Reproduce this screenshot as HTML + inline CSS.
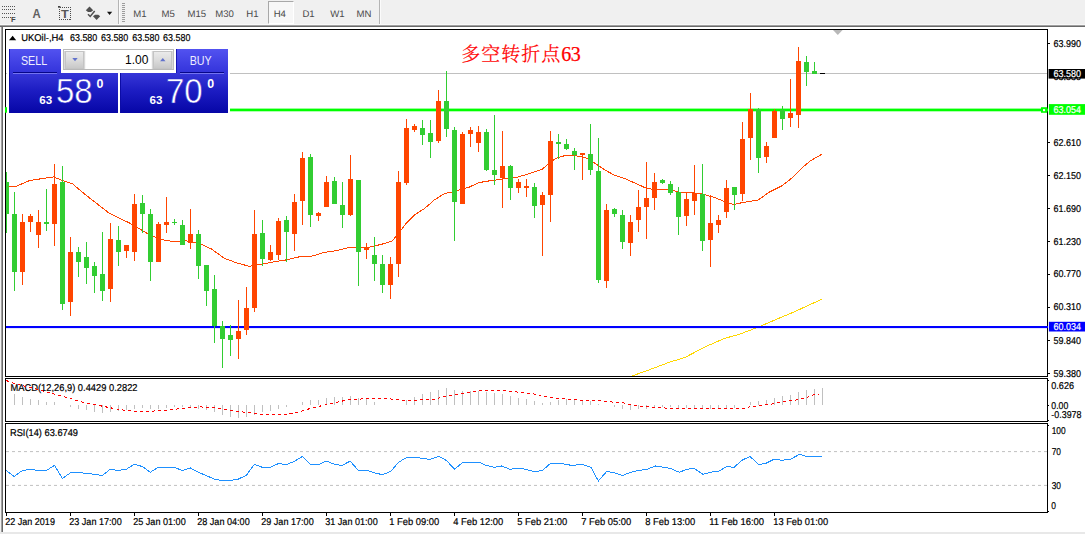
<!DOCTYPE html>
<html lang="zh">
<head>
<meta charset="utf-8">
<title>UKOil H4</title>
<style>
html,body{margin:0;padding:0;background:#fff;}
body{width:1085px;height:534px;position:relative;overflow:hidden;font-family:"Liberation Sans","Noto Sans CJK SC",sans-serif;}
#toolbar{position:absolute;left:0;top:0;width:1085px;height:25px;background:#f0f0f0;}
#tbline{position:absolute;left:0;top:24px;width:1085px;height:3px;background:linear-gradient(#f8f8f8 0,#f8f8f8 33.3%,#a0a0a0 33.4%,#a0a0a0 66.6%,#696969 66.7%);}
.tf{position:absolute;top:8.4px;font-size:9.6px;line-height:14px;color:#4a4a4a;white-space:nowrap;text-rendering:geometricPrecision;}
#h4box{position:absolute;left:268px;top:1px;width:24px;height:21px;background:#f7f7f7;border-left:1px solid #a8a8a8;border-top:1px solid #a8a8a8;border-right:1px solid #fff;border-bottom:1px solid #fff;box-sizing:content-box;}
.vsep{position:absolute;top:0;width:1px;height:24px;background:#b4b4b4;border-right:1px solid #fbfbfb;}
#frameL{position:absolute;left:0;top:27px;width:1px;height:507px;background:#f2f2f2;}
#frameL1{position:absolute;left:1px;top:27px;width:1px;height:505px;background:#a0a0a0;}
#frameL2{position:absolute;left:2px;top:27px;width:1px;height:505px;background:#696969;}
#frameB{position:absolute;left:0;top:532px;width:1085px;height:2px;background:#e8e8e8;}
#chart{position:absolute;left:0;top:0;}
#chart text{font-family:"Liberation Sans",sans-serif;text-rendering:geometricPrecision;}
#title{position:absolute;left:461.2px;top:41px;font-family:"Liberation Serif","Noto Serif CJK SC",serif;font-size:19px;letter-spacing:1px;line-height:26px;color:#ff0000;white-space:nowrap;font-weight:300;-webkit-text-stroke:0.25px #ff0000;}
/* one click trading panel */
.btn{position:absolute;top:49px;height:24.8px;background:linear-gradient(#5252f0,#3232da);color:#eef;font-size:12.3px;line-height:24px;text-align:center;box-shadow:inset 1px 0 0 #1414b4;}
.btn b{display:inline-block;font-weight:normal;transform:scaleX(0.87);position:relative;left:-0.8px;}
.sepl{position:absolute;top:72px;height:1px;background:#060688;box-shadow:0 1px 0 #7474f0;}
.px{position:absolute;top:73.3px;height:39.5px;background:linear-gradient(#3636d8,#1c1cc2 45%,#0606a6);color:#fff;}
.px{box-shadow:inset 1px 0 0 #0c0ca6;}
.px span{position:absolute;white-space:nowrap;}
.sm{font-size:11.6px;font-weight:bold;top:21px;line-height:12px;}
.big{font-size:35.5px;top:0.2px;line-height:37px;transform-origin:0 0;transform:scaleX(0.93);-webkit-text-stroke:0.55px #2a2acd;}
.sup{font-size:12.4px;font-weight:bold;top:4.4px;line-height:13px;}
#vol{position:absolute;left:63.1px;top:49px;width:110.7px;height:21.4px;background:#fff;box-shadow:inset 0 0 0 1px #b8b8b8;}
.spin{position:absolute;top:1.5px;width:19.2px;height:18.6px;background:linear-gradient(#ececec,#dcdcdc 50%,#c6c6c6);box-shadow:inset 0 0 0 1px #c4c4c4, 1.2px 0 0 #d8d8d8, -1.2px 0 0 #d8d8d8;}
#volv{position:absolute;right:25.4px;top:4.2px;font-size:12px;line-height:14px;color:#000;}
</style>
</head>
<body>
<div id="toolbar">
  <svg width="130" height="25" style="position:absolute;left:0;top:0">
    <g stroke="#555" stroke-width="1" stroke-dasharray="1,1" fill="none">
      <path d="M2,6.5 H15 M2,9.5 H15 M2,13.5 H15 M2,17.5 H11"/>
    </g>
    <text x="10.9" y="22.1" font-size="7.6" font-weight="bold" fill="#444" font-family="Liberation Sans,sans-serif">F</text>
    <text x="32.6" y="18" font-size="12" font-weight="bold" fill="#606060" font-family="Liberation Sans,sans-serif" textLength="8.2" lengthAdjust="spacingAndGlyphs">A</text>
    <rect x="59.5" y="7.5" width="11" height="12" fill="none" stroke="#4a4a4a" stroke-width="1" stroke-dasharray="1,1" shape-rendering="crispEdges"/>
    <rect x="58" y="6" width="2.4" height="1.7" fill="#444"/>
    <text x="61.1" y="18" font-size="11" font-weight="bold" fill="#585858" font-family="Liberation Sans,sans-serif" textLength="7.8" lengthAdjust="spacingAndGlyphs">T</text>
    <path d="M85.8,10.2 L89.5,6.6 L93.2,10.2 L91,11.9 L88,11.9 Z" fill="#505050"/>
    <path d="M93,16.2 L95,14.7 L98.2,14.7 L100.2,16.2 L96.6,20.1 Z" fill="#505050"/>
    <path d="M88,14.3 L90.2,16.5 L94.7,11" fill="none" stroke="#505050" stroke-width="1.5"/>
    <path d="M107,11.8 H112.2 L109.6,15 Z" fill="#111"/>
    <g fill="#9c9c9c" shape-rendering="crispEdges"><rect x="122" y="3" width="3" height="1"/><rect x="122" y="5" width="3" height="1"/><rect x="122" y="7" width="3" height="1"/><rect x="122" y="9" width="3" height="1"/><rect x="122" y="11" width="3" height="1"/><rect x="122" y="13" width="3" height="1"/><rect x="122" y="15" width="3" height="1"/><rect x="122" y="17" width="3" height="1"/><rect x="122" y="19" width="3" height="1"/><rect x="122" y="21" width="3" height="1"/></g>
  </svg>
  <div class="vsep" style="left:118px"></div>
  <div id="h4box"></div>
  <span class="tf" style="left:133.3px">M1</span>
  <span class="tf" style="left:161.5px">M5</span>
  <span class="tf" style="left:187.5px">M15</span>
  <span class="tf" style="left:215.2px">M30</span>
  <span class="tf" style="left:246.3px">H1</span>
  <span class="tf" style="left:273.7px">H4</span>
  <span class="tf" style="left:302.4px">D1</span>
  <span class="tf" style="left:330.2px">W1</span>
  <span class="tf" style="left:356.5px">MN</span>
  <div class="vsep" style="left:378.7px"></div>
</div>
<div id="tbline"></div>
<div id="frameL"></div><div id="frameL1"></div><div id="frameL2"></div><div id="frameB"></div>
<svg id="chart" width="1085" height="534" viewBox="0 0 1085 534">
<g fill="#000" shape-rendering="crispEdges">
<rect x="5" y="29" width="1043" height="1"/>
<rect x="5" y="29" width="1" height="348"/>
<rect x="5" y="376" width="1043" height="1"/>
<rect x="5" y="378" width="1043" height="1"/>
<rect x="5" y="378" width="1" height="44"/>
<rect x="5" y="421" width="1043" height="1"/>
<rect x="5" y="423" width="1043" height="1"/>
<rect x="5" y="423" width="1" height="90"/>
<rect x="5" y="512" width="1043" height="1"/>
<rect x="1047" y="29" width="1" height="348"/>
<rect x="1047" y="378" width="1" height="44"/>
<rect x="1047" y="423" width="1" height="90"/>
</g>
<g fill="#000" shape-rendering="crispEdges">
<rect x="1048" y="43" width="2" height="1"/>
<rect x="1048" y="142" width="2" height="1"/>
<rect x="1048" y="175" width="2" height="1"/>
<rect x="1048" y="208" width="2" height="1"/>
<rect x="1048" y="241" width="2" height="1"/>
<rect x="1048" y="274" width="2" height="1"/>
<rect x="1048" y="307" width="2" height="1"/>
<rect x="1048" y="340" width="2" height="1"/>
<rect x="1048" y="373" width="2" height="1"/>
<rect x="1048" y="380" width="1" height="1"/>
<rect x="1048" y="405" width="1" height="1"/>
<rect x="1048" y="420" width="1" height="1"/>
<rect x="1048" y="425" width="1" height="1"/>
<rect x="1048" y="511" width="1" height="1"/>
<rect x="6" y="513" width="1" height="3"/>
<rect x="70" y="513" width="1" height="3"/>
<rect x="134" y="513" width="1" height="3"/>
<rect x="198" y="513" width="1" height="3"/>
<rect x="262" y="513" width="1" height="3"/>
<rect x="326" y="513" width="1" height="3"/>
<rect x="390" y="513" width="1" height="3"/>
<rect x="454" y="513" width="1" height="3"/>
<rect x="518" y="513" width="1" height="3"/>
<rect x="582" y="513" width="1" height="3"/>
<rect x="646" y="513" width="1" height="3"/>
<rect x="710" y="513" width="1" height="3"/>
<rect x="774" y="513" width="1" height="3"/>
</g>
<path d="M833,30 L842.6,30 L837.8,35 Z" fill="#b8b8b8"/>
<path d="M6,186.5 L8.7,186.9 L14.9,186.9 L29.9,180.4 L42.3,178.6 L53.5,176.9 L62.3,180.4 L72.2,183.6 L87.2,196.1 L109.6,213.5 L129.5,223 L149.4,234.7 L161.9,239.7 L174.3,241.7 L186.8,240.9 L199.3,243.4 L211.7,249.1 L224.2,258.3 L236.6,262.8 L249.1,266.3 L256,265.2 L262.5,264 L274.9,261.7 L287.4,259.7 L299.8,256.7 L312.3,256 L324.7,252.3 L337.2,250.5 L349.6,247.3 L358.3,247.8 L367.1,247.8 L374.5,246 L384.5,243.5 L392,241.1 L399.4,232.3 L406.9,222.4 L414.4,214.9 L424.3,208.7 L434.3,200 L444.3,193.7 L451.7,192 L456.7,190.8 L469.2,187.1 L479.1,182.6 L489.1,180.9 L499.1,179.6 L509,177.9 L517.4,177.2 L529.9,173.5 L542.3,169.3 L549.8,162.3 L557.3,157.8 L566,155.3 L574.7,155.6 L584.7,157.3 L594.6,163 L604.6,169.8 L614.6,175.3 L624.5,178.5 L637,184 L646.9,188.5 L656.9,189.7 L669.4,189.7 L679.3,192.2 L689.3,192.7 L699.3,193.4 L705.6,194.9 L715,197.7 L724.3,201.5 L733.7,204.6 L743.1,202.4 L758,200.1 L769.3,192.1 L782.4,185.5 L791.8,178.1 L801.1,168.7 L810.5,160.8 L821.7,154.3" fill="none" stroke="#ff4500" stroke-width="1" shape-rendering="crispEdges"/>
<path d="M632.4,375.8 L649.8,369.6 L669.7,362.1 L684.7,357.6 L704.6,347.1 L724.5,338.4 L739.5,334.2 L756.9,327.7 L774.3,320.2 L794.3,311.8 L821.7,299.3" fill="none" stroke="#ffd700" stroke-width="1" shape-rendering="crispEdges"/>
<rect x="6" y="73" width="1041" height="1" fill="#c0c0c0"/>
<rect x="5" y="108.6" width="1043" height="2.7" fill="#00ff00"/>
<rect x="5" y="107.2" width="2" height="5.5" fill="#00ff00"/>
<rect x="6" y="326" width="1042" height="2.1" fill="#0000ff"/>
<g shape-rendering="crispEdges">
<rect x="6" y="172" width="1" height="61" fill="#32cd32"/>
<rect x="6" y="182" width="3" height="32" fill="#32cd32"/>
<rect x="14" y="192" width="1" height="99" fill="#32cd32"/>
<rect x="12" y="214" width="5" height="58" fill="#32cd32"/>
<rect x="22" y="214" width="1" height="71" fill="#ff4500"/>
<rect x="20" y="222" width="5" height="50" fill="#ff4500"/>
<rect x="30" y="214" width="1" height="18" fill="#ff4500"/>
<rect x="28" y="216" width="5" height="6" fill="#ff4500"/>
<rect x="38" y="210" width="1" height="38" fill="#ff4500"/>
<rect x="36" y="222" width="5" height="13" fill="#ff4500"/>
<rect x="46" y="189" width="1" height="42" fill="#32cd32"/>
<rect x="44" y="222" width="5" height="2" fill="#32cd32"/>
<rect x="54" y="164" width="1" height="82" fill="#ff4500"/>
<rect x="52" y="184" width="5" height="40" fill="#ff4500"/>
<rect x="62" y="166" width="1" height="144" fill="#32cd32"/>
<rect x="60" y="182" width="5" height="122" fill="#32cd32"/>
<rect x="70" y="237" width="1" height="79" fill="#ff4500"/>
<rect x="68" y="252" width="5" height="50" fill="#ff4500"/>
<rect x="78" y="247" width="1" height="30" fill="#32cd32"/>
<rect x="76" y="252" width="5" height="10" fill="#32cd32"/>
<rect x="86" y="242" width="1" height="42" fill="#32cd32"/>
<rect x="84" y="257" width="5" height="11" fill="#32cd32"/>
<rect x="94" y="262" width="1" height="31" fill="#32cd32"/>
<rect x="92" y="266" width="5" height="10" fill="#32cd32"/>
<rect x="102" y="232" width="1" height="69" fill="#32cd32"/>
<rect x="100" y="274" width="5" height="17" fill="#32cd32"/>
<rect x="110" y="223" width="1" height="79" fill="#ff4500"/>
<rect x="108" y="239" width="5" height="50" fill="#ff4500"/>
<rect x="118" y="226" width="1" height="40" fill="#32cd32"/>
<rect x="116" y="240" width="5" height="12" fill="#32cd32"/>
<rect x="126" y="245" width="1" height="13" fill="#ff4500"/>
<rect x="124" y="245" width="5" height="6" fill="#ff4500"/>
<rect x="134" y="194" width="1" height="67" fill="#ff4500"/>
<rect x="132" y="204" width="5" height="48" fill="#ff4500"/>
<rect x="142" y="195" width="1" height="38" fill="#32cd32"/>
<rect x="140" y="203" width="5" height="11" fill="#32cd32"/>
<rect x="150" y="209" width="1" height="72" fill="#32cd32"/>
<rect x="148" y="214" width="5" height="48" fill="#32cd32"/>
<rect x="158" y="222" width="1" height="40" fill="#ff4500"/>
<rect x="156" y="224" width="5" height="38" fill="#ff4500"/>
<rect x="166" y="197" width="1" height="36" fill="#ff4500"/>
<rect x="164" y="222" width="5" height="3" fill="#ff4500"/>
<rect x="174" y="219" width="1" height="6" fill="#32cd32"/>
<rect x="172" y="222" width="5" height="1" fill="#32cd32"/>
<rect x="182" y="220" width="1" height="25" fill="#32cd32"/>
<rect x="180" y="225" width="5" height="20" fill="#32cd32"/>
<rect x="190" y="209" width="1" height="40" fill="#ff4500"/>
<rect x="188" y="234" width="5" height="9" fill="#ff4500"/>
<rect x="198" y="230" width="1" height="49" fill="#32cd32"/>
<rect x="196" y="234" width="5" height="32" fill="#32cd32"/>
<rect x="206" y="265" width="1" height="41" fill="#32cd32"/>
<rect x="204" y="265" width="5" height="26" fill="#32cd32"/>
<rect x="214" y="275" width="1" height="68" fill="#32cd32"/>
<rect x="212" y="289" width="5" height="37" fill="#32cd32"/>
<rect x="222" y="321" width="1" height="47" fill="#32cd32"/>
<rect x="220" y="326" width="5" height="13" fill="#32cd32"/>
<rect x="230" y="325" width="1" height="31" fill="#32cd32"/>
<rect x="228" y="335" width="5" height="5" fill="#32cd32"/>
<rect x="238" y="300" width="1" height="59" fill="#ff4500"/>
<rect x="236" y="331" width="5" height="8" fill="#ff4500"/>
<rect x="246" y="287" width="1" height="48" fill="#ff4500"/>
<rect x="244" y="308" width="5" height="22" fill="#ff4500"/>
<rect x="254" y="210" width="1" height="102" fill="#ff4500"/>
<rect x="252" y="234" width="5" height="74" fill="#ff4500"/>
<rect x="262" y="220" width="1" height="46" fill="#32cd32"/>
<rect x="260" y="233" width="5" height="26" fill="#32cd32"/>
<rect x="270" y="245" width="1" height="16" fill="#ff4500"/>
<rect x="268" y="252" width="5" height="8" fill="#ff4500"/>
<rect x="278" y="218" width="1" height="42" fill="#ff4500"/>
<rect x="276" y="221" width="5" height="34" fill="#ff4500"/>
<rect x="286" y="216" width="1" height="46" fill="#32cd32"/>
<rect x="284" y="220" width="5" height="12" fill="#32cd32"/>
<rect x="294" y="194" width="1" height="57" fill="#ff4500"/>
<rect x="292" y="202" width="5" height="32" fill="#ff4500"/>
<rect x="302" y="152" width="1" height="73" fill="#ff4500"/>
<rect x="300" y="158" width="5" height="43" fill="#ff4500"/>
<rect x="310" y="154" width="1" height="73" fill="#32cd32"/>
<rect x="308" y="157" width="5" height="58" fill="#32cd32"/>
<rect x="318" y="212" width="1" height="9" fill="#ff4500"/>
<rect x="316" y="213" width="5" height="3" fill="#ff4500"/>
<rect x="326" y="176" width="1" height="31" fill="#ff4500"/>
<rect x="324" y="182" width="5" height="25" fill="#ff4500"/>
<rect x="334" y="177" width="1" height="27" fill="#32cd32"/>
<rect x="332" y="181" width="5" height="23" fill="#32cd32"/>
<rect x="342" y="182" width="1" height="46" fill="#32cd32"/>
<rect x="340" y="205" width="5" height="10" fill="#32cd32"/>
<rect x="350" y="155" width="1" height="61" fill="#ff4500"/>
<rect x="348" y="179" width="5" height="36" fill="#ff4500"/>
<rect x="358" y="180" width="1" height="106" fill="#32cd32"/>
<rect x="356" y="180" width="5" height="72" fill="#32cd32"/>
<rect x="366" y="243" width="1" height="16" fill="#ff4500"/>
<rect x="364" y="247" width="5" height="3" fill="#ff4500"/>
<rect x="374" y="237" width="1" height="44" fill="#32cd32"/>
<rect x="372" y="255" width="5" height="9" fill="#32cd32"/>
<rect x="382" y="255" width="1" height="38" fill="#32cd32"/>
<rect x="380" y="264" width="5" height="21" fill="#32cd32"/>
<rect x="390" y="257" width="1" height="42" fill="#ff4500"/>
<rect x="388" y="264" width="5" height="21" fill="#ff4500"/>
<rect x="398" y="171" width="1" height="106" fill="#ff4500"/>
<rect x="396" y="182" width="5" height="82" fill="#ff4500"/>
<rect x="406" y="119" width="1" height="66" fill="#ff4500"/>
<rect x="404" y="128" width="5" height="55" fill="#ff4500"/>
<rect x="414" y="124" width="1" height="8" fill="#ff4500"/>
<rect x="412" y="126" width="5" height="4" fill="#ff4500"/>
<rect x="422" y="120" width="1" height="25" fill="#32cd32"/>
<rect x="420" y="128" width="5" height="7" fill="#32cd32"/>
<rect x="430" y="120" width="1" height="38" fill="#32cd32"/>
<rect x="428" y="133" width="5" height="9" fill="#32cd32"/>
<rect x="438" y="90" width="1" height="53" fill="#ff4500"/>
<rect x="436" y="101" width="5" height="40" fill="#ff4500"/>
<rect x="446" y="71" width="1" height="66" fill="#32cd32"/>
<rect x="444" y="101" width="5" height="28" fill="#32cd32"/>
<rect x="454" y="127" width="1" height="114" fill="#32cd32"/>
<rect x="452" y="130" width="5" height="72" fill="#32cd32"/>
<rect x="462" y="132" width="1" height="72" fill="#ff4500"/>
<rect x="460" y="134" width="5" height="70" fill="#ff4500"/>
<rect x="470" y="127" width="1" height="20" fill="#ff4500"/>
<rect x="468" y="130" width="5" height="4" fill="#ff4500"/>
<rect x="478" y="126" width="1" height="26" fill="#ff4500"/>
<rect x="476" y="132" width="5" height="11" fill="#ff4500"/>
<rect x="486" y="129" width="1" height="42" fill="#32cd32"/>
<rect x="484" y="132" width="5" height="38" fill="#32cd32"/>
<rect x="494" y="115" width="1" height="70" fill="#32cd32"/>
<rect x="492" y="170" width="5" height="5" fill="#32cd32"/>
<rect x="502" y="131" width="1" height="77" fill="#ff4500"/>
<rect x="500" y="166" width="5" height="12" fill="#ff4500"/>
<rect x="510" y="165" width="1" height="35" fill="#32cd32"/>
<rect x="508" y="166" width="5" height="22" fill="#32cd32"/>
<rect x="518" y="179" width="1" height="14" fill="#ff4500"/>
<rect x="516" y="182" width="5" height="6" fill="#ff4500"/>
<rect x="526" y="179" width="1" height="18" fill="#ff4500"/>
<rect x="524" y="186" width="5" height="2" fill="#ff4500"/>
<rect x="534" y="183" width="1" height="35" fill="#32cd32"/>
<rect x="532" y="187" width="5" height="19" fill="#32cd32"/>
<rect x="542" y="192" width="1" height="64" fill="#ff4500"/>
<rect x="540" y="195" width="5" height="10" fill="#ff4500"/>
<rect x="550" y="131" width="1" height="91" fill="#ff4500"/>
<rect x="548" y="141" width="5" height="54" fill="#ff4500"/>
<rect x="558" y="134" width="1" height="25" fill="#32cd32"/>
<rect x="556" y="142" width="5" height="2" fill="#32cd32"/>
<rect x="566" y="139" width="1" height="11" fill="#32cd32"/>
<rect x="564" y="144" width="5" height="5" fill="#32cd32"/>
<rect x="574" y="148" width="1" height="22" fill="#32cd32"/>
<rect x="572" y="151" width="5" height="4" fill="#32cd32"/>
<rect x="582" y="153" width="1" height="27" fill="#ff4500"/>
<rect x="580" y="153" width="5" height="2" fill="#ff4500"/>
<rect x="590" y="124" width="1" height="51" fill="#32cd32"/>
<rect x="588" y="154" width="5" height="16" fill="#32cd32"/>
<rect x="598" y="138" width="1" height="145" fill="#32cd32"/>
<rect x="596" y="171" width="5" height="109" fill="#32cd32"/>
<rect x="606" y="204" width="1" height="84" fill="#ff4500"/>
<rect x="604" y="210" width="5" height="71" fill="#ff4500"/>
<rect x="614" y="208" width="1" height="9" fill="#32cd32"/>
<rect x="612" y="209" width="5" height="5" fill="#32cd32"/>
<rect x="622" y="210" width="1" height="39" fill="#32cd32"/>
<rect x="620" y="215" width="5" height="27" fill="#32cd32"/>
<rect x="630" y="215" width="1" height="41" fill="#ff4500"/>
<rect x="628" y="222" width="5" height="21" fill="#ff4500"/>
<rect x="638" y="190" width="1" height="42" fill="#ff4500"/>
<rect x="636" y="207" width="5" height="13" fill="#ff4500"/>
<rect x="646" y="162" width="1" height="77" fill="#ff4500"/>
<rect x="644" y="198" width="5" height="9" fill="#ff4500"/>
<rect x="654" y="173" width="1" height="37" fill="#ff4500"/>
<rect x="652" y="182" width="5" height="16" fill="#ff4500"/>
<rect x="662" y="179" width="1" height="5" fill="#32cd32"/>
<rect x="660" y="180" width="5" height="3" fill="#32cd32"/>
<rect x="670" y="181" width="1" height="14" fill="#32cd32"/>
<rect x="668" y="184" width="5" height="9" fill="#32cd32"/>
<rect x="678" y="187" width="1" height="48" fill="#32cd32"/>
<rect x="676" y="192" width="5" height="25" fill="#32cd32"/>
<rect x="686" y="192" width="1" height="34" fill="#ff4500"/>
<rect x="684" y="199" width="5" height="17" fill="#ff4500"/>
<rect x="694" y="165" width="1" height="50" fill="#ff4500"/>
<rect x="692" y="193" width="5" height="8" fill="#ff4500"/>
<rect x="702" y="164" width="1" height="87" fill="#32cd32"/>
<rect x="700" y="194" width="5" height="47" fill="#32cd32"/>
<rect x="710" y="195" width="1" height="72" fill="#ff4500"/>
<rect x="708" y="223" width="5" height="17" fill="#ff4500"/>
<rect x="718" y="215" width="1" height="18" fill="#ff4500"/>
<rect x="716" y="220" width="5" height="5" fill="#ff4500"/>
<rect x="726" y="180" width="1" height="38" fill="#ff4500"/>
<rect x="724" y="188" width="5" height="24" fill="#ff4500"/>
<rect x="734" y="187" width="1" height="23" fill="#32cd32"/>
<rect x="732" y="187" width="5" height="8" fill="#32cd32"/>
<rect x="742" y="122" width="1" height="79" fill="#ff4500"/>
<rect x="740" y="139" width="5" height="55" fill="#ff4500"/>
<rect x="750" y="93" width="1" height="67" fill="#ff4500"/>
<rect x="748" y="109" width="5" height="29" fill="#ff4500"/>
<rect x="758" y="108" width="1" height="65" fill="#32cd32"/>
<rect x="756" y="109" width="5" height="49" fill="#32cd32"/>
<rect x="766" y="142" width="1" height="21" fill="#ff4500"/>
<rect x="764" y="146" width="5" height="11" fill="#ff4500"/>
<rect x="774" y="109" width="1" height="29" fill="#ff4500"/>
<rect x="772" y="111" width="5" height="27" fill="#ff4500"/>
<rect x="782" y="106" width="1" height="24" fill="#32cd32"/>
<rect x="780" y="110" width="5" height="9" fill="#32cd32"/>
<rect x="790" y="79" width="1" height="48" fill="#ff4500"/>
<rect x="788" y="113" width="5" height="5" fill="#ff4500"/>
<rect x="798" y="47" width="1" height="81" fill="#ff4500"/>
<rect x="796" y="61" width="5" height="54" fill="#ff4500"/>
<rect x="806" y="56" width="1" height="30" fill="#32cd32"/>
<rect x="804" y="62" width="5" height="10" fill="#32cd32"/>
<rect x="814" y="62" width="1" height="12" fill="#32cd32"/>
<rect x="812" y="71" width="5" height="3" fill="#32cd32"/>
<rect x="820" y="73" width="5" height="1" fill="#000"/>
</g>
<text transform="translate(1053.4,79.85) scale(1,1.1)" font-size="9" fill="#000" textLength="27.5" lengthAdjust="spacingAndGlyphs" stroke="#000" stroke-width="0.3">63.530</text>
<rect x="1048.6" y="69" width="37" height="9.6" fill="#000"/>
<rect x="1048.9" y="104.1" width="37" height="10.7" fill="#00ff00"/>
<rect x="1041" y="107.2" width="6.2" height="5.6" fill="#00ff00"/>
<rect x="1043" y="109.1" width="2.1" height="2.1" fill="#fff"/>
<rect x="1048.9" y="321.8" width="37" height="9.7" fill="#0000ff"/>
<g fill="#c0c0c0" shape-rendering="crispEdges">
<rect x="14" y="394" width="1" height="11"/>
<rect x="22" y="397" width="1" height="8"/>
<rect x="30" y="399" width="1" height="6"/>
<rect x="38" y="400" width="1" height="5"/>
<rect x="46" y="402" width="1" height="3"/>
<rect x="54" y="402" width="1" height="3"/>
<rect x="70" y="405" width="1" height="2"/>
<rect x="78" y="405" width="1" height="4"/>
<rect x="86" y="405" width="1" height="5"/>
<rect x="94" y="405" width="1" height="7"/>
<rect x="102" y="405" width="1" height="8"/>
<rect x="110" y="405" width="1" height="7"/>
<rect x="118" y="405" width="1" height="6"/>
<rect x="126" y="405" width="1" height="5"/>
<rect x="134" y="405" width="1" height="4"/>
<rect x="142" y="405" width="1" height="3"/>
<rect x="150" y="405" width="1" height="4"/>
<rect x="158" y="405" width="1" height="4"/>
<rect x="166" y="405" width="1" height="3"/>
<rect x="174" y="405" width="1" height="2"/>
<rect x="182" y="405" width="1" height="2"/>
<rect x="190" y="405" width="1" height="2"/>
<rect x="198" y="405" width="1" height="4"/>
<rect x="206" y="405" width="1" height="5"/>
<rect x="214" y="405" width="1" height="7"/>
<rect x="222" y="405" width="1" height="10"/>
<rect x="230" y="405" width="1" height="12"/>
<rect x="238" y="405" width="1" height="13"/>
<rect x="246" y="405" width="1" height="12"/>
<rect x="254" y="405" width="1" height="10"/>
<rect x="262" y="405" width="1" height="7"/>
<rect x="270" y="405" width="1" height="6"/>
<rect x="278" y="405" width="1" height="4"/>
<rect x="286" y="405" width="1" height="2"/>
<rect x="302" y="402" width="1" height="3"/>
<rect x="310" y="400" width="1" height="5"/>
<rect x="318" y="400" width="1" height="5"/>
<rect x="326" y="398" width="1" height="7"/>
<rect x="334" y="397" width="1" height="8"/>
<rect x="342" y="397" width="1" height="8"/>
<rect x="350" y="396" width="1" height="9"/>
<rect x="358" y="398" width="1" height="7"/>
<rect x="366" y="399" width="1" height="6"/>
<rect x="374" y="402" width="1" height="3"/>
<rect x="406" y="400" width="1" height="5"/>
<rect x="414" y="397" width="1" height="8"/>
<rect x="422" y="394" width="1" height="11"/>
<rect x="430" y="392" width="1" height="13"/>
<rect x="438" y="390" width="1" height="15"/>
<rect x="446" y="388" width="1" height="17"/>
<rect x="454" y="390" width="1" height="15"/>
<rect x="462" y="391" width="1" height="14"/>
<rect x="470" y="391" width="1" height="14"/>
<rect x="478" y="391" width="1" height="14"/>
<rect x="486" y="392" width="1" height="13"/>
<rect x="494" y="393" width="1" height="12"/>
<rect x="502" y="394" width="1" height="11"/>
<rect x="510" y="396" width="1" height="9"/>
<rect x="518" y="398" width="1" height="7"/>
<rect x="526" y="399" width="1" height="6"/>
<rect x="534" y="401" width="1" height="4"/>
<rect x="542" y="403" width="1" height="2"/>
<rect x="550" y="402" width="1" height="3"/>
<rect x="558" y="400" width="1" height="5"/>
<rect x="566" y="399" width="1" height="6"/>
<rect x="574" y="399" width="1" height="6"/>
<rect x="582" y="400" width="1" height="5"/>
<rect x="590" y="401" width="1" height="4"/>
<rect x="598" y="404" width="1" height="1"/>
<rect x="614" y="405" width="1" height="2"/>
<rect x="622" y="405" width="1" height="4"/>
<rect x="630" y="405" width="1" height="5"/>
<rect x="638" y="405" width="1" height="4"/>
<rect x="646" y="405" width="1" height="4"/>
<rect x="654" y="405" width="1" height="2"/>
<rect x="662" y="405" width="1" height="2"/>
<rect x="670" y="405" width="1" height="2"/>
<rect x="678" y="405" width="1" height="3"/>
<rect x="686" y="405" width="1" height="3"/>
<rect x="694" y="405" width="1" height="3"/>
<rect x="702" y="405" width="1" height="4"/>
<rect x="710" y="405" width="1" height="4"/>
<rect x="718" y="405" width="1" height="4"/>
<rect x="726" y="405" width="1" height="3"/>
<rect x="734" y="405" width="1" height="3"/>
<rect x="750" y="402" width="1" height="3"/>
<rect x="758" y="401" width="1" height="4"/>
<rect x="766" y="400" width="1" height="5"/>
<rect x="774" y="398" width="1" height="7"/>
<rect x="782" y="396" width="1" height="9"/>
<rect x="790" y="395" width="1" height="10"/>
<rect x="798" y="392" width="1" height="13"/>
<rect x="806" y="390" width="1" height="15"/>
<rect x="814" y="389" width="1" height="16"/>
<rect x="822" y="388" width="1" height="17"/>
</g>
<path d="M6,451.6 H1047 M6,485.4 H1047" stroke="#c0c0c0" stroke-width="1" stroke-dasharray="3,3" fill="none"/>
<path d="M6.2,470.5 L14.2,476.5 L22.4,470.5 L30.4,469.3 L38.6,470.5 L46.5,470.5 L54.5,465.3 L62.5,478.5 L70.4,472.8 L78.4,472.3 L86.4,473.5 L94.3,474.2 L102.3,475.5 L110.2,469.3 L118.2,470.5 L126.2,469.3 L134.4,464.3 L142.3,466.5 L150.3,472.3 L158.3,467.3 L166.2,467.3 L174.2,467.3 L182.2,470.5 L190.4,468 L198.3,472.3 L206.3,475.5 L214.3,479.2 L222.2,480.5 L230.2,480.5 L238.1,479.2 L246.4,475.2 L254.3,464.3 L262.3,467.3 L270,467.3 L278.7,463.5 L286.1,464.8 L294.8,461.1 L302.3,456.6 L310.5,464.3 L319,464.3 L326.4,461.1 L334.7,464.3 L342.1,465.5 L350.1,461.1 L358.3,470.3 L367,470.5 L374.5,472.8 L382.4,474.7 L390.6,471.5 L398.6,462.3 L406.8,457.3 L416.8,457.3 L423,458.6 L430.5,459.3 L438.7,456.3 L446.6,460.6 L454.6,469.3 L462.8,462.3 L479,462.3 L486.5,465.5 L493.9,467.3 L501.4,466 L510.1,469.3 L518.8,468 L527.5,469.8 L534.9,471.8 L542.4,470.5 L550.4,463.5 L561,463.5 L572.3,465.5 L582.2,464.3 L590.9,467.3 L598.4,481 L606.6,471.5 L614.6,472.8 L622.5,475.5 L630.7,472.3 L638.2,470.5 L646.9,469.3 L655.6,466 L664.3,467.3 L670.6,468.5 L679.3,472.3 L686.7,469.3 L694.2,468.5 L702.9,474.2 L710.4,472.3 L719.1,471 L726.5,466.5 L734,467.3 L742.7,459.8 L750.2,456.6 L758.9,464.8 L766.4,463.1 L773.8,459.3 L782.1,460.3 L790.8,459.1 L799.5,454.3 L807,456.6 L821.9,456.6" fill="none" stroke="#1e90ff" stroke-width="1" shape-rendering="crispEdges"/>
<path d="M9,40.2 L16.2,40.2 L12.6,35.8 Z" fill="#000"/>
<text transform="translate(1053.4,46.95) scale(1,1.1)" font-size="9" fill="#000" stroke="#000" stroke-width="0.18" textLength="27.5" lengthAdjust="spacingAndGlyphs">63.990</text>
<text transform="translate(1053.4,145.75) scale(1,1.1)" font-size="9" fill="#000" stroke="#000" stroke-width="0.18" textLength="27.5" lengthAdjust="spacingAndGlyphs">62.610</text>
<text transform="translate(1053.4,178.65) scale(1,1.1)" font-size="9" fill="#000" stroke="#000" stroke-width="0.18" textLength="27.5" lengthAdjust="spacingAndGlyphs">62.150</text>
<text transform="translate(1053.4,211.65) scale(1,1.1)" font-size="9" fill="#000" stroke="#000" stroke-width="0.18" textLength="27.5" lengthAdjust="spacingAndGlyphs">61.690</text>
<text transform="translate(1053.4,244.65) scale(1,1.1)" font-size="9" fill="#000" stroke="#000" stroke-width="0.18" textLength="27.5" lengthAdjust="spacingAndGlyphs">61.230</text>
<text transform="translate(1053.4,277.45) scale(1,1.1)" font-size="9" fill="#000" stroke="#000" stroke-width="0.18" textLength="27.5" lengthAdjust="spacingAndGlyphs">60.770</text>
<text transform="translate(1053.4,310.45) scale(1,1.1)" font-size="9" fill="#000" stroke="#000" stroke-width="0.18" textLength="27.5" lengthAdjust="spacingAndGlyphs">60.310</text>
<text transform="translate(1053.4,343.55) scale(1,1.1)" font-size="9" fill="#000" stroke="#000" stroke-width="0.18" textLength="27.5" lengthAdjust="spacingAndGlyphs">59.840</text>
<text transform="translate(1053.4,376.85) scale(1,1.1)" font-size="9" fill="#000" stroke="#000" stroke-width="0.18" textLength="27.5" lengthAdjust="spacingAndGlyphs">59.380</text>
<text transform="translate(1053.4,77.05) scale(1,1.1)" font-size="9" fill="#fff" stroke="#fff" stroke-width="0.18" textLength="27.5" lengthAdjust="spacingAndGlyphs">63.580</text>
<text transform="translate(1053.4,112.95) scale(1,1.1)" font-size="9" fill="#fff" stroke="#fff" stroke-width="0.18" textLength="27.5" lengthAdjust="spacingAndGlyphs">63.054</text>
<text transform="translate(1053.4,329.95) scale(1,1.1)" font-size="9" fill="#fff" stroke="#fff" stroke-width="0.18" textLength="27.5" lengthAdjust="spacingAndGlyphs">60.034</text>
<text transform="translate(1051.3,389.25) scale(1,1.1)" font-size="9" fill="#000" stroke="#000" stroke-width="0.18" textLength="22.7" lengthAdjust="spacingAndGlyphs">0.626</text>
<text transform="translate(1051.3,408.85) scale(1,1.1)" font-size="9" fill="#000" stroke="#000" stroke-width="0.18" textLength="17" lengthAdjust="spacingAndGlyphs">0.00</text>
<text transform="translate(1051.3,418.05) scale(1,1.1)" font-size="9" fill="#000" stroke="#000" stroke-width="0.18" textLength="30.2" lengthAdjust="spacingAndGlyphs">-0.3978</text>
<text transform="translate(1051.7,433.65) scale(1,1.1)" font-size="9" fill="#000" stroke="#000" stroke-width="0.18" textLength="14" lengthAdjust="spacingAndGlyphs">100</text>
<text transform="translate(1051.7,454.85) scale(1,1.1)" font-size="9" fill="#000" stroke="#000" stroke-width="0.18" textLength="9.3" lengthAdjust="spacingAndGlyphs">70</text>
<text transform="translate(1051.7,488.65) scale(1,1.1)" font-size="9" fill="#000" stroke="#000" stroke-width="0.18" textLength="9.3" lengthAdjust="spacingAndGlyphs">30</text>
<text transform="translate(1051.3,508.85) scale(1,1.1)" font-size="9" fill="#000" stroke="#000" stroke-width="0.18" textLength="4.7" lengthAdjust="spacingAndGlyphs">0</text>
<text transform="translate(21.2,40.8) scale(1,1.1)" font-size="9" fill="#000" stroke="#000" stroke-width="0.18" textLength="42.4" lengthAdjust="spacingAndGlyphs">UKOil-,H4</text>
<text transform="translate(70,40.8) scale(1,1.1)" font-size="9" fill="#000" stroke="#000" stroke-width="0.18" textLength="27.3" lengthAdjust="spacingAndGlyphs">63.580</text>
<text transform="translate(101,40.8) scale(1,1.1)" font-size="9" fill="#000" stroke="#000" stroke-width="0.18" textLength="27.3" lengthAdjust="spacingAndGlyphs">63.580</text>
<text transform="translate(132.2,40.8) scale(1,1.1)" font-size="9" fill="#000" stroke="#000" stroke-width="0.18" textLength="27.3" lengthAdjust="spacingAndGlyphs">63.580</text>
<text transform="translate(163.1,40.8) scale(1,1.1)" font-size="9" fill="#000" stroke="#000" stroke-width="0.18" textLength="27.3" lengthAdjust="spacingAndGlyphs">63.580</text>
<text transform="translate(10.5,390.6) scale(1,1.1)" font-size="9" fill="#000" stroke="#000" stroke-width="0.18" textLength="127" lengthAdjust="spacingAndGlyphs">MACD(12,26,9) 0.4429 0.2822</text>
<text transform="translate(10,435.6) scale(1,1.1)" font-size="9" fill="#000" stroke="#000" stroke-width="0.18" textLength="68" lengthAdjust="spacingAndGlyphs">RSI(14) 63.6749</text>
<text transform="translate(5.2,524.9) scale(1,1.1)" font-size="9" fill="#000" stroke="#000" stroke-width="0.18" textLength="49.7" lengthAdjust="spacingAndGlyphs">22 Jan 2019</text>
<text transform="translate(69.2,524.9) scale(1,1.1)" font-size="9" fill="#000" stroke="#000" stroke-width="0.18" textLength="52.5" lengthAdjust="spacingAndGlyphs">23 Jan 17:00</text>
<text transform="translate(133.2,524.9) scale(1,1.1)" font-size="9" fill="#000" stroke="#000" stroke-width="0.18" textLength="52.5" lengthAdjust="spacingAndGlyphs">25 Jan 01:00</text>
<text transform="translate(197.2,524.9) scale(1,1.1)" font-size="9" fill="#000" stroke="#000" stroke-width="0.18" textLength="52.5" lengthAdjust="spacingAndGlyphs">28 Jan 04:00</text>
<text transform="translate(261.2,524.9) scale(1,1.1)" font-size="9" fill="#000" stroke="#000" stroke-width="0.18" textLength="52.5" lengthAdjust="spacingAndGlyphs">29 Jan 17:00</text>
<text transform="translate(325.2,524.9) scale(1,1.1)" font-size="9" fill="#000" stroke="#000" stroke-width="0.18" textLength="52.5" lengthAdjust="spacingAndGlyphs">31 Jan 01:00</text>
<text transform="translate(389.2,524.9) scale(1,1.1)" font-size="9" fill="#000" stroke="#000" stroke-width="0.18" textLength="50" lengthAdjust="spacingAndGlyphs">1 Feb 09:00</text>
<text transform="translate(453.2,524.9) scale(1,1.1)" font-size="9" fill="#000" stroke="#000" stroke-width="0.18" textLength="50" lengthAdjust="spacingAndGlyphs">4 Feb 12:00</text>
<text transform="translate(517.2,524.9) scale(1,1.1)" font-size="9" fill="#000" stroke="#000" stroke-width="0.18" textLength="50" lengthAdjust="spacingAndGlyphs">5 Feb 21:00</text>
<text transform="translate(581.2,524.9) scale(1,1.1)" font-size="9" fill="#000" stroke="#000" stroke-width="0.18" textLength="50" lengthAdjust="spacingAndGlyphs">7 Feb 05:00</text>
<text transform="translate(645.2,524.9) scale(1,1.1)" font-size="9" fill="#000" stroke="#000" stroke-width="0.18" textLength="50" lengthAdjust="spacingAndGlyphs">8 Feb 13:00</text>
<text transform="translate(709.2,524.9) scale(1,1.1)" font-size="9" fill="#000" stroke="#000" stroke-width="0.18" textLength="54.9" lengthAdjust="spacingAndGlyphs">11 Feb 16:00</text>
<text transform="translate(773.2,524.9) scale(1,1.1)" font-size="9" fill="#000" stroke="#000" stroke-width="0.18" textLength="54.9" lengthAdjust="spacingAndGlyphs">13 Feb 01:00</text>
<path d="M6.2,380.5 L15,383.7 L25,386.2 L37.3,389.4 L49.8,392.9 L62.2,396.2 L74.7,399.9 L87.1,403.6 L99.5,405.6 L112,408.1 L124.4,410.3 L136.9,411.3 L149.3,411.3 L161.8,410.6 L174.2,409.3 L186.6,408.1 L199.1,406.9 L211.5,407.4 L224,409.1 L236.4,411.1 L248.8,412.8 L261.3,414.1 L272.4,414.3 L287.4,414.3 L297.3,412.3 L309.8,408.6 L322.2,405.6 L334.7,402.9 L347.1,399.9 L359.5,399.1 L372,398.1 L384.4,398.1 L396.9,399.9 L409.3,400.4 L421.8,399.9 L434.2,399.1 L446.6,396.2 L459.1,393.7 L471.5,391.9 L484,390.4 L496.4,390.4 L508.8,391.2 L521.3,392.4 L535,394.2 L547.4,396.6 L559.8,398.6 L572.3,399.4 L584.7,400.4 L597.1,400.6 L609.6,401.9 L622,402.4 L632,404.9 L644.4,406.6 L656.9,407.8 L669.3,408.1 L694.2,408.1 L719.1,408.1 L744.8,408.1 L749.8,406.9 L762.2,405.4 L774.6,403.6 L782.1,401.9 L797,399.9 L807,397.4 L814.5,394.4 L819.4,394.2" fill="none" stroke="#ff0000" stroke-width="1" stroke-dasharray="3,3" shape-rendering="crispEdges"/>
</svg>
<div style="position:absolute;left:7px;top:48px;width:223.3px;height:65.2px;background:#fff"></div>
<div id="title">多空转折点<span style="letter-spacing:-0.5px;font-size:20px">63</span></div>
<div class="btn" style="left:9px;width:51.7px"><b>SELL</b></div>
<div class="btn" style="left:176px;width:51.8px"><b>BUY</b></div>
<div style="position:absolute;left:118px;top:73px;width:2px;height:39.8px;background:#fff"></div>
<div id="vol">
  <div class="spin" style="left:1.5px"><svg width="20" height="20" style="position:absolute;left:0;top:0"><path d="M7.3,7 h5.4 l-2.7,3.2 z" fill="#6272cc"/></svg></div>
  <div class="spin" style="left:90.1px"><svg width="20" height="20" style="position:absolute;left:0;top:0"><path d="M7.1,10.3 h5.4 l-2.7,-3.2 z" fill="#6272cc"/></svg></div>
  <div id="volv">1.00</div>
</div>
<div class="px" style="left:9px;width:109px"><span class="sm" style="left:30.2px">63</span><span class="big" style="left:47.2px">58</span><span class="sup" style="left:87.4px">0</span></div>
<div class="px" style="left:120px;width:107.8px"><span class="sm" style="left:29.6px">63</span><span class="big" style="left:46.4px">70</span><span class="sup" style="left:87.3px">0</span></div>
<div class="sepl" style="left:13px;width:44px"></div><div class="sepl" style="left:180px;width:44px"></div>
</body>
</html>
